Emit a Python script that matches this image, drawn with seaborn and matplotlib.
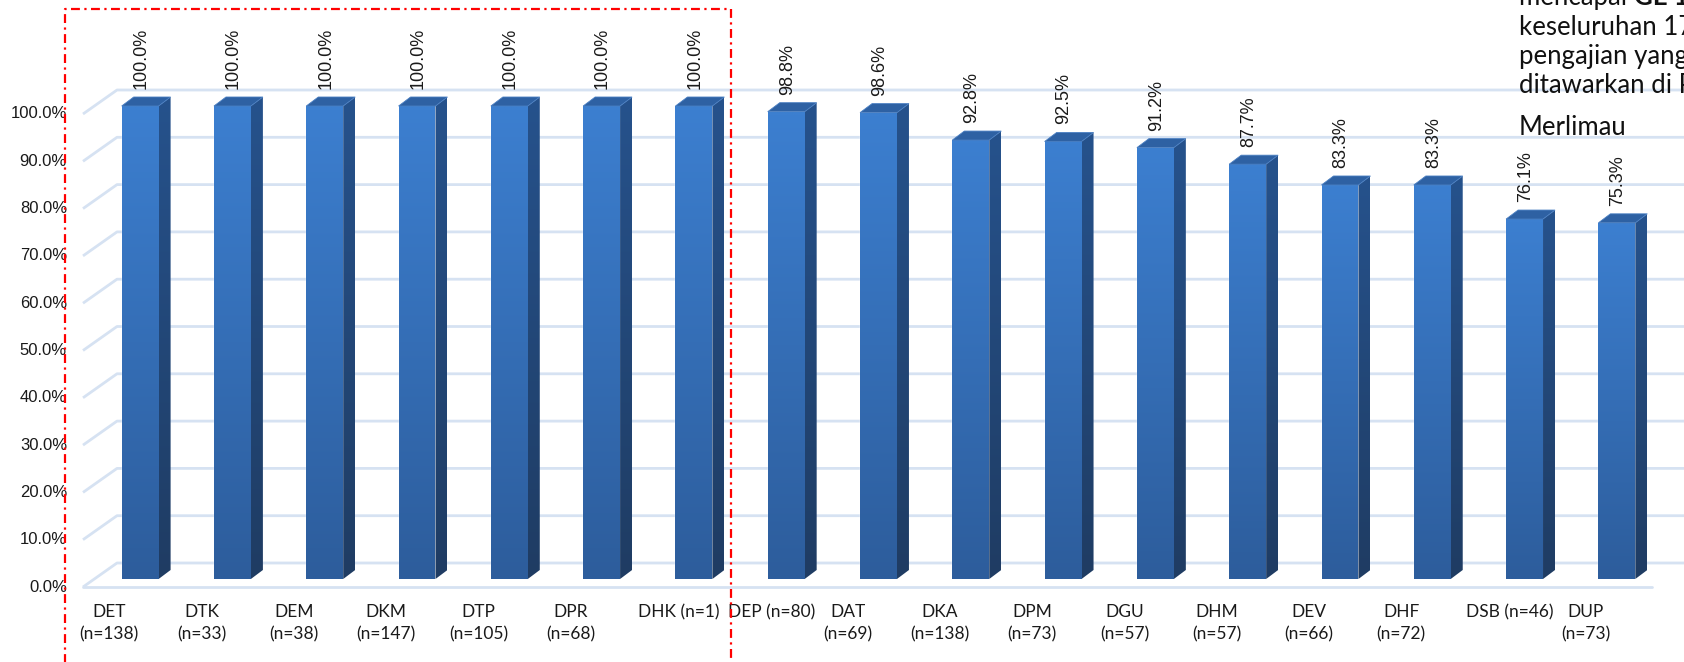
import numpy as np
import matplotlib
matplotlib.use("Agg")
import matplotlib.pyplot as plt
import seaborn as sns
import pandas as pd
from matplotlib.patches import Polygon
from matplotlib.lines import Line2D
from matplotlib.colors import to_rgb

# ---------------- data ----------------
categories = ["DET\n(n=138)", "DTK\n(n=33)", "DEM\n(n=38)", "DKM\n(n=147)",
              "DTP\n(n=105)", "DPR\n(n=68)", "DHK (n=1)", "DEP (n=80)",
              "DAT\n(n=69)", "DKA\n(n=138)", "DPM\n(n=73)", "DGU\n(n=57)",
              "DHM\n(n=57)", "DEV\n(n=66)", "DHF\n(n=72)", "DSB (n=46)",
              "DUP\n(n=73)"]
values = [100.0, 100.0, 100.0, 100.0, 100.0, 100.0, 100.0, 98.8, 98.6,
          92.8, 92.5, 91.2, 87.7, 83.3, 83.3, 76.1, 75.3]
y_ticks = [0, 10, 20, 30, 40, 50, 60, 70, 80, 90, 100]
y_tick_labels = ["0.0%", "10.0%", "20.0%", "30.0%", "40.0%", "50.0%",
                 "60.0%", "70.0%", "80.0%", "90.0%", "100.0%"]
note_first = "mencapai "
note_first_bold = "GE 100% bagi"
note_lines = ["keseluruhan 17 program", "pengajian yang",
              "ditawarkan di Politeknik", "Merlimau"]

# ---------------- style ----------------
sns.set_style("white")
plt.rcParams['font.family'] = ['Lato', 'DejaVu Sans']

W, H = 1684, 662
fig = plt.figure(figsize=(W / 100, H / 100), dpi=100)
fig.patch.set_facecolor("white")

bg = fig.add_axes([0, 0, 1, 1])
ax = fig.add_axes([94 / W, (H - 579) / H, (1663 - 94) / W, 473 / H])
ov = fig.add_axes([0, 0, 1, 1])
bg.set_zorder(0); ax.set_zorder(1); ov.set_zorder(2)
for a in (bg, ov):
    a.set_xlim(0, W); a.set_ylim(H, 0)
    a.set_autoscale_on(False)
    a.axis("off")
    a.patch.set_visible(False)

df = pd.DataFrame({"cat": categories, "val": values})
sns.barplot(data=df, x="cat", y="val", order=categories, width=0.4,
            color="#3476c2", saturation=1, errorbar=None, ax=ax)
ax.set_xlim(-0.5, len(categories) - 0.5)
ax.set_ylim(0, 100)
ax.axis("off")
ax.patch.set_visible(False)


def d2p(x, y):
    dx, dy = ax.transData.transform((x, y))
    return dx, H - dy


def grad_fill(target, poly_pts, c_top, c_bot, z):
    pts = np.array(poly_pts)
    x0, x1 = pts[:, 0].min(), pts[:, 0].max()
    y0, y1 = pts[:, 1].min(), pts[:, 1].max()
    ct, cb = np.array(to_rgb(c_top)), np.array(to_rgb(c_bot))
    t = np.linspace(0, 1, 64)[:, None]
    arr = (ct[None, :] * (1 - t) + cb[None, :] * t)[:, None, :]
    im = target.imshow(arr, extent=[x0, x1, y1, y0], aspect="auto",
                       interpolation="bilinear", zorder=z)
    clip = Polygon(pts, closed=True, transform=target.transData,
                   facecolor="none", edgecolor="none")
    target.add_patch(clip)
    im.set_clip_path(clip)


# ---------------- perspective gridlines ----------------
grid_c = "#d6e2f2"
xl, _ = d2p(-0.5, 0)
xr, _ = d2p(len(categories) - 0.5, 0)
tick_font = dict(family=["Liberation Sans", "DejaVu Sans"], size=12, color="#1a1a1a")
for v, lab in zip(y_ticks, y_tick_labels):
    _, yp = d2p(0, v)
    bg.plot([xl - 11, xl + 23, xr + 23], [yp + 8, yp - 16, yp - 16],
            color=grid_c, lw=2, solid_capstyle="butt")
    if v == 0:
        bg.plot([xl - 11, xr - 11], [yp + 8, yp + 8], color=grid_c, lw=2)
    ov.text(67, yp + 8, lab, ha="right", va="center", **tick_font)

# ---------------- 3D bar faces ----------------
ddx, ddy = 12, 9
for p, v in zip(ax.patches, values):
    L, B = d2p(p.get_x(), p.get_y())
    R, T = d2p(p.get_x() + p.get_width(), p.get_y() + p.get_height())
    front = [(L, T), (R, T), (R, B), (L, B)]
    grad_fill(ov, front, "#3c7fd0", "#2d5d9c", 2)
    side = [(R, B), (R + ddx, B - ddy), (R + ddx, T - ddy), (R, T)]
    grad_fill(ov, side, "#26528c", "#1f3c63", 2)
    top = [(L, T), (L + ddx, T - ddy), (R + ddx, T - ddy), (R, T)]
    ov.add_patch(Polygon(top, closed=True, facecolor="#2e61a3",
                         edgecolor="#4a7fc2", lw=0.6, zorder=3))
    ov.text((L + R) / 2 + 1, T - 17, f"{v:.1f}%", rotation=90,
            ha="center", va="bottom",
            family=["Liberation Sans", "DejaVu Sans"], size=13, color="#1a1a1a")

# ---------------- category labels ----------------
for i, (p, c) in enumerate(zip(ax.patches, categories)):
    L, _ = d2p(p.get_x(), 0)
    R, _ = d2p(p.get_x() + p.get_width(), 0)
    cx = (L + R) / 2
    lines = c.split("\n")
    off = -31 if len(lines) > 1 else -15
    for k, ln in enumerate(lines):
        ov.text(cx + off, 617 + 22 * k, ln, ha="center", va="baseline",
                size=12.5, color="#1a1a1a")

# ---------------- red dash-dot frame ----------------
ov.add_line(Line2D([65, 65, 731, 731], [H + 10, 9, 9, H + 10], color="#ff0000",
                   lw=1.6, linestyle=(0, (4, 2, 1, 2)), zorder=6, clip_on=False))

# ---------------- text box (cut at edge) ----------------
nf = dict(size=18.5, color="#111111")
t0 = ov.text(1519, 5, note_first, ha="left", va="baseline", clip_on=False, **nf)
fig.canvas.draw()
bb = t0.get_window_extent()
ov.text(bb.x1, 5, note_first_bold, ha="left", va="baseline", weight="bold",
        clip_on=False, **nf)
for yb, ln in zip([35, 64, 93, 135], note_lines):
    ov.text(1519, yb, ln, ha="left", va="baseline", clip_on=False, **nf)

fig.savefig("out.png", dpi=100)
